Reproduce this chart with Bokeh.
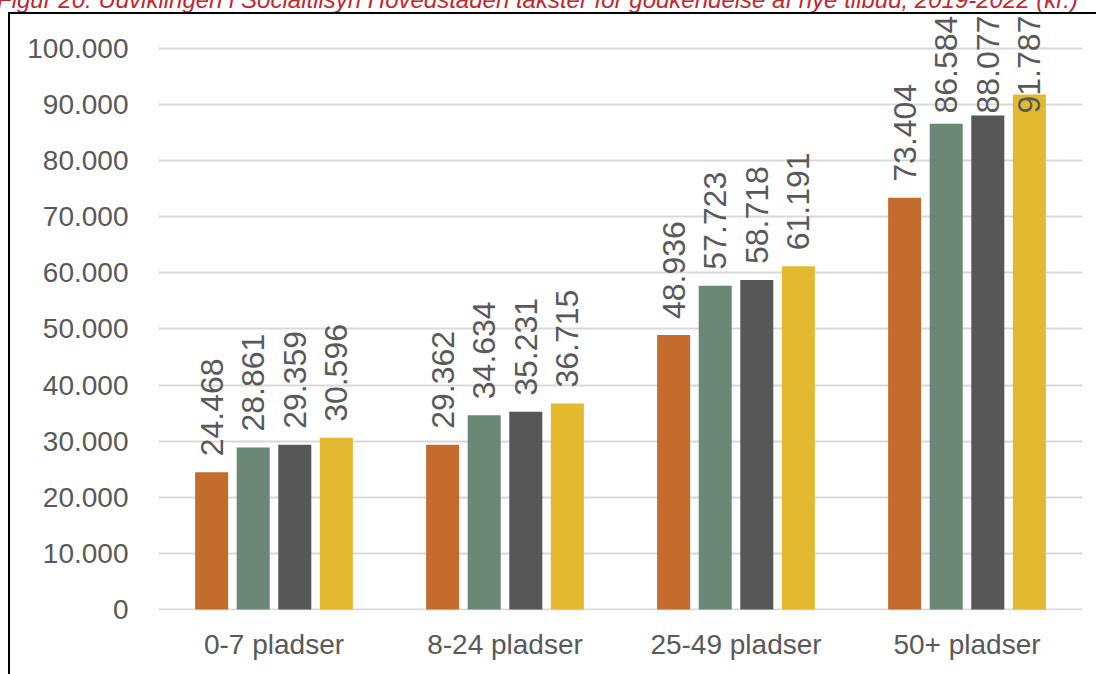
import math
from bokeh.plotting import figure
from bokeh.models import FactorRange, Range1d, FixedTicker, ColumnDataSource, Div
from bokeh.transform import dodge
from bokeh.layouts import column
from bokeh.core.properties import value
from bokeh.embed import file_html
from bokeh.resources import INLINE

# ---- data ----
title_text = "Figur 20: Udviklingen i Socialtilsyn Hovedstaden takster for godkendelse af nye tilbud, 2019-2022 (kr.)"
categories = ["0-7 pladser", "8-24 pladser", "25-49 pladser", "50+ pladser"]
years = ["2019", "2020", "2021", "2022"]
v2019 = [24468, 29362, 48936, 73404]
v2020 = [28861, 34634, 57723, 86584]
v2021 = [29359, 35231, 58718, 88077]
v2022 = [30596, 36715, 61191, 91787]
y_ticks = [0, 10000, 20000, 30000, 40000, 50000, 60000, 70000, 80000, 90000, 100000]
y_tick_labels = ["0", "10.000", "20.000", "30.000", "40.000", "50.000",
                 "60.000", "70.000", "80.000", "90.000", "100.000"]

series = [v2019, v2020, v2021, v2022]
colors = ["#C46C2E", "#6B8775", "#575757", "#E3BA2F"]

FONT = "Liberation Sans"
GREY = "#595959"

p = figure(
    x_range=FactorRange(*categories, range_padding=0),
    y_range=Range1d(-180, 106060),
    width=1088, height=662,
    output_backend="svg", toolbar_location=None,
    min_border_left=148, min_border_right=16, min_border_top=0, min_border_bottom=66,
)
p.styles = {"border-left": "2px solid #000000", "border-top": "2px solid #000000",
            "margin-left": "8px"}
p.outline_line_color = None
p.background_fill_color = "white"

bar_w = 0.143
step = 0.18
label_gap = 2850
label_cap = 88400

for i, (yr, vals, col) in enumerate(zip(years, series, colors)):
    off = (i - 1.5) * step
    src = ColumnDataSource(dict(
        cat=categories,
        val=vals,
        ly=[min(v + label_gap, label_cap) for v in vals],
        lbl=[f"{v:,}".replace(",", ".") for v in vals],
    ))
    p.vbar(x=dodge("cat", off, range=p.x_range), top="val", bottom=0, width=bar_w,
           fill_color=col, line_color=None, source=src)
    p.text(x=dodge("cat", off, range=p.x_range), y="ly", text="lbl", source=src,
           angle=math.pi / 2, text_align="left", text_baseline="middle",
           text_font=value(FONT), text_font_size="32px", text_color=GREY)

# axes
p.yaxis.ticker = FixedTicker(ticks=y_ticks)
p.yaxis.major_label_overrides = {t: l for t, l in zip(y_ticks, y_tick_labels)}
for ax in (p.xaxis, p.yaxis):
    ax.axis_line_color = None
    ax.major_tick_line_color = None
    ax.minor_tick_line_color = None
    ax.major_label_text_font = FONT
    ax.major_label_text_font_size = "28px"
    ax.major_label_text_color = GREY
p.yaxis.major_label_standoff = 24
p.xaxis.major_label_standoff = 12

p.xgrid.grid_line_color = None
p.ygrid.grid_line_color = "#D9D9D9"
p.ygrid.grid_line_width = 2

title = Div(text=title_text, width=1100, height=12,
            styles={"font-family": FONT, "font-style": "italic", "font-size": "24px",
                    "color": "#C0282D", "white-space": "nowrap", "line-height": "24px",
                    "margin": "0px", "padding": "0px",
                    "position": "relative", "top": "-12px", "left": "-3px"})

layout = column(title, p, spacing=0)
open("out.html", "w").write(file_html(layout, INLINE))
